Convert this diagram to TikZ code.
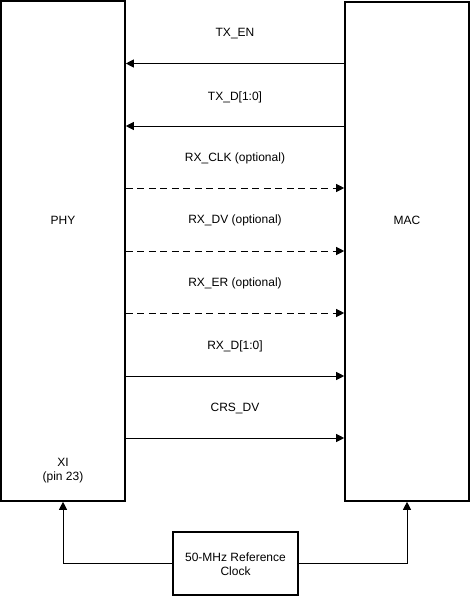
\documentclass[tikz,border=0pt]{standalone}
\usepackage{fontspec}
\setmainfont{Liberation Sans}
\usetikzlibrary{arrows.meta}
\begin{document}
\begin{tikzpicture}[x=1pt,y=-1pt,
  box/.style={draw, line width=1.6pt, inner sep=0pt},
  lbl/.style={font=\fontsize{12}{14}\selectfont, inner sep=0pt, align=center},
  sig/.style={line width=0.9pt, -{Triangle[length=8pt,width=8pt]}},
  opt/.style={sig, dash pattern=on 7pt off 4.5pt}]
\useasboundingbox (0,0) rectangle (471,596);
\node[box, minimum width=124pt, minimum height=500pt] (phy) at (63,251) {};
\node[box, minimum width=124pt, minimum height=499pt] (mac) at (407,251.5) {};
\node[box, minimum width=125pt, minimum height=63pt] (clk) at (235.5,563.5) {};
\node[lbl] (phyt) at (63,220) {PHY};
\node[lbl] (mact) at (407,220) {MAC};
\node[lbl] (xi) at (63,471) {XI\\(pin 23)};
\node[lbl] (clkt) at (235.5,564) {50-MHz Reference\\Clock};
% labels
\node[lbl] (l1) at (235,34) {TX\_EN};
\node[lbl] (l2) at (235,97) {TX\_D[1:0]};
\node[lbl] (l3) at (235,158) {RX\_CLK (optional)};
\node[lbl] (l4) at (235,220) {RX\_DV (optional)};
\node[lbl] (l5) at (235,283) {RX\_ER (optional)};
\node[lbl] (l6) at (235,346) {RX\_D[1:0]};
\node[lbl] (l7) at (235,408) {CRS\_DV};
% signals
\draw[sig] (mac.west |- 0,63.5) -- (phy.east |- 0,63.5);
\draw[sig] (mac.west |- 0,126) -- (phy.east |- 0,126);
\draw[opt] (phy.east |- 0,188) -- (mac.west |- 0,188);
\draw[opt] (phy.east |- 0,251) -- (mac.west |- 0,251);
\draw[opt] (phy.east |- 0,313) -- (mac.west |- 0,313);
\draw[sig] (phy.east |- 0,376) -- (mac.west |- 0,376);
\draw[sig] (phy.east |- 0,438) -- (mac.west |- 0,438);
% clock
\draw[sig] (clk.west) -| (phy.south);
\draw[sig] (clk.east) -| (mac.south);
\end{tikzpicture}
\end{document}
